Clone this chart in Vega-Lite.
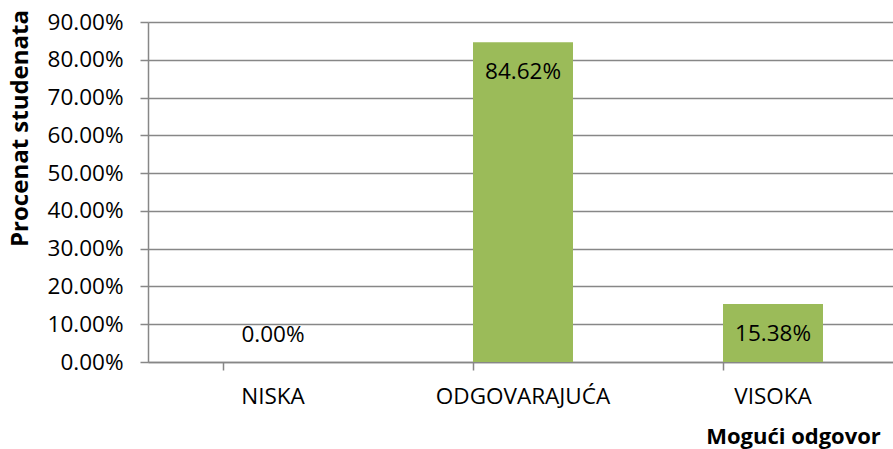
{
  "$schema": "https://vega.github.io/schema/vega-lite/v6.json",
  "width": 750,
  "height": 340,
  "autosize": {"type": "none"},
  "padding": {"left": 148, "top": 22, "right": 0, "bottom": 87},
  "config": {
    "view": {"stroke": null},
    "font": "Open Sans",
    "axis": {"labelFont": "Open Sans", "titleFont": "Open Sans", "labelColor": "#000000", "titleColor": "#000000"}
  },
  "data": {"values": [
    {"odgovor": "NISKA", "procenat": 0.0},
    {"odgovor": "ODGOVARAJUĆA", "procenat": 0.8462},
    {"odgovor": "VISOKA", "procenat": 0.1538}
  ]},
  "encoding": {
    "x": {
      "field": "odgovor", "type": "nominal", "sort": null,
      "scale": {"paddingInner": 0.6, "paddingOuter": 0.3},
      "axis": {
        "title": "Mogući odgovor", "titleFontSize": 22, "titleFontWeight": "bold",
        "titleX": 645, "titleY": 74, "titleAlign": "center", "titleBaseline": "middle",
        "labelAngle": 0, "labelFontSize": 22.5, "labelPadding": 15,
        "bandPosition": 0, "tickSize": 8, "tickColor": "#878787", "domainColor": "#878787",
        "domainWidth": 1.5, "tickWidth": 1.5
      }
    },
    "y": {
      "field": "procenat", "type": "quantitative",
      "scale": {"domain": [0, 0.9], "nice": false},
      "axis": {
        "title": "Procenat studenata", "titleFontSize": 24, "titleFontWeight": "bold",
        "titleAngle": 270, "titleX": -128, "titleY": 106, "titleAlign": "center", "titleBaseline": "middle",
        "values": [0, 0.1, 0.2, 0.3, 0.4, 0.5, 0.6, 0.7, 0.8, 0.9],
        "format": ".2%", "labelFontSize": 22.5, "labelPadding": 17,
        "tickSize": 8, "tickColor": "#878787", "domainColor": "#878787", "gridColor": "#878787",
        "domainWidth": 1.5, "tickWidth": 1.5, "gridWidth": 1.5
      }
    }
  },
  "layer": [
    {"mark": {"type": "bar", "color": "#9BBB59"}},
    {
      "transform": [{"filter": "datum.procenat > 0"}],
      "mark": {"type": "text", "baseline": "middle", "align": "center", "dy": 30, "fontSize": 22.5, "font": "Open Sans", "color": "#000000"},
      "encoding": {"text": {"field": "procenat", "type": "quantitative", "format": ".2%"}}
    },
    {
      "transform": [{"filter": "datum.procenat == 0"}],
      "mark": {"type": "text", "baseline": "middle", "align": "center", "dy": -27, "fontSize": 22.5, "font": "Open Sans", "color": "#000000"},
      "encoding": {"text": {"field": "procenat", "type": "quantitative", "format": ".2%"}}
    }
  ]
}
